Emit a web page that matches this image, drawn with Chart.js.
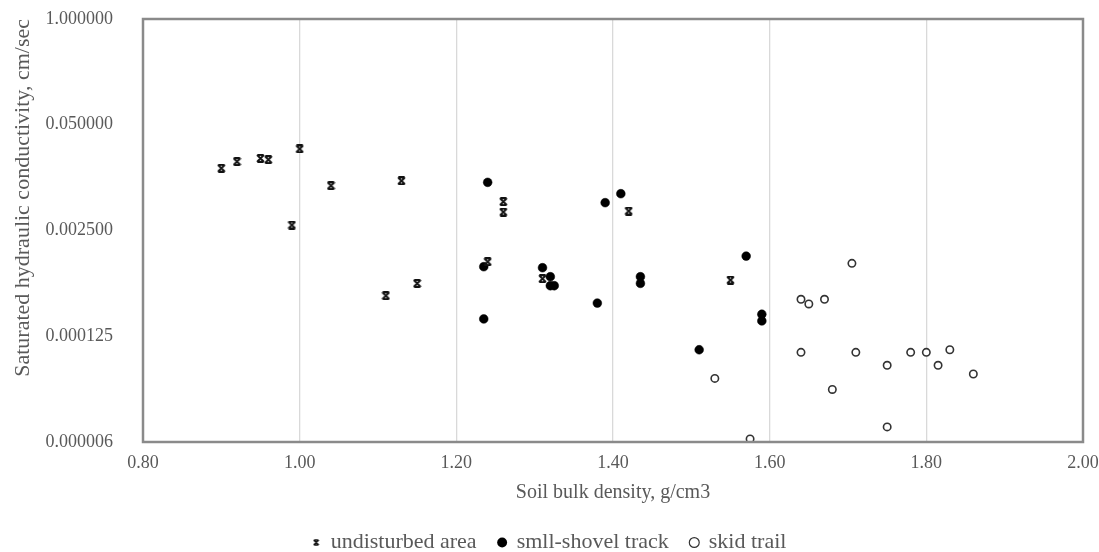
<!DOCTYPE html>
<html>
<head>
<meta charset="utf-8">
<script src="https://cdn.jsdelivr.net/npm/chart.js@4/dist/chart.umd.min.js"></script>
<style>
  html, body { margin: 0; padding: 0; background: #ffffff; }
  #wrap { width: 1099px; height: 552px; position: relative; }
</style>
</head>
<body>
<div id="wrap"><canvas id="chart" width="1099" height="552"></canvas></div>
<script>
// Soil bulk density (g/cm3) and saturated hydraulic conductivity (cm/sec)
const undisturbedDensity = [0.90, 0.92, 0.95, 0.96, 0.99, 1.00, 1.04, 1.11, 1.13, 1.15, 1.24, 1.26, 1.26, 1.31, 1.42, 1.55];
const undisturbedK       = [0.0146, 0.0176, 0.0193, 0.0186, 0.00292, 0.0252, 0.0089, 0.000394, 0.0102, 0.000559, 0.00103, 0.00566, 0.00422, 0.000638, 0.00434, 0.000615];

const shovelDensity = [1.24, 1.235, 1.235, 1.31, 1.32, 1.32, 1.325, 1.38, 1.39, 1.41, 1.435, 1.435, 1.51, 1.57, 1.59, 1.59];
const shovelK       = [0.00978, 0.000896, 0.000204, 0.000871, 0.000675, 0.000523, 0.000523, 0.00032, 0.0055, 0.00709, 0.000675, 0.000559, 0.0000853, 0.00121, 0.000233, 0.000193];

const skidDensity = [1.53, 1.575, 1.64, 1.65, 1.67, 1.705, 1.64, 1.71, 1.68, 1.75, 1.75, 1.78, 1.80, 1.815, 1.83, 1.86];
const skidK       = [0.0000379, 0.0000068, 0.000356, 0.000312, 0.000356, 0.000987, 0.0000793, 0.0000793, 0.0000277, 0.0000549, 0.00000958, 0.0000793, 0.0000793, 0.0000549, 0.0000853, 0.0000429];

const seriesNames = ['undisturbed area', 'smll-shovel track', 'skid trail'];

// Axis ticks: x every 0.2, y in steps of a factor of 20
const xTickValues = [0.80, 1.00, 1.20, 1.40, 1.60, 1.80, 2.00];
const yTickValues = [0.00000625, 0.000125, 0.0025, 0.05, 1];

const pairs = (xs, ys) => xs.map((x, i) => ({ x: x, y: ys[i] }));

// Hourglass-style cross marker
function makeCrossMarker(size, width) {
  const c = document.createElement('canvas');
  c.width = size; c.height = size;
  const g = c.getContext('2d');
  g.strokeStyle = '#111';
  g.lineWidth = width;
  const a = 1, b = size - 1;
  g.beginPath();
  g.moveTo(a, a); g.lineTo(b, b);
  g.moveTo(b, a); g.lineTo(a, b);
  g.moveTo(a + 0.5, a); g.lineTo(b - 0.5, a);
  g.moveTo(a + 0.5, b); g.lineTo(b - 0.5, b);
  g.stroke();
  return c;
}
const crossMarker = makeCrossMarker(9, 1.9);
const crossLegend = makeCrossMarker(7, 1.5);

// Grey frame around the plotting area
const frame = {
  id: 'frame',
  afterDatasetsDraw(chart) {
    const { ctx, chartArea: a } = chart;
    ctx.save();
    ctx.strokeStyle = '#8a8a8a';
    ctx.lineWidth = 2.5;
    ctx.strokeRect(a.left, a.top, a.right - a.left, a.bottom - a.top);
    ctx.restore();
  }
};

const serif = '"Liberation Serif", "Times New Roman", serif';
const textColor = '#595959';

new Chart(document.getElementById('chart'), {
  type: 'scatter',
  data: {
    datasets: [
      {
        label: seriesNames[0],
        data: pairs(undisturbedDensity, undisturbedK),
        pointStyle: crossMarker,
        pointRadius: 4.5,
        pointHoverRadius: 4.5
      },
      {
        label: seriesNames[1],
        data: pairs(shovelDensity, shovelK),
        pointStyle: 'circle',
        pointRadius: 4.4,
        pointHoverRadius: 4.4,
        backgroundColor: '#000000',
        borderColor: '#000000',
        borderWidth: 0.5
      },
      {
        label: seriesNames[2],
        data: pairs(skidDensity, skidK),
        pointStyle: 'circle',
        pointRadius: 3.7,
        pointHoverRadius: 3.7,
        backgroundColor: '#ffffff',
        borderColor: '#333333',
        borderWidth: 1.6
      }
    ]
  },
  options: {
    responsive: false,
    animation: false,
    events: [],
    layout: { padding: { left: 0, right: 0, top: 0, bottom: -11.5 } },
    plugins: {
      tooltip: { enabled: false },
      legend: {
        position: 'bottom',
        labels: {
          usePointStyle: true,
          color: textColor,
          font: { family: serif, size: 22 },
          padding: 22,
          boxWidth: 7,
          boxHeight: 7,
          generateLabels(chart) {
            const styles = [
              { pointStyle: crossLegend, fillStyle: '#000', strokeStyle: '#000', lineWidth: 0 },
              { pointStyle: 'circle', fillStyle: '#000', strokeStyle: '#000', lineWidth: 0 },
              { pointStyle: 'circle', fillStyle: '#fff', strokeStyle: '#333', lineWidth: 1.2 }
            ];
            return chart.data.datasets.map((ds, i) => Object.assign({
              text: ds.label,
              datasetIndex: i,
              fontColor: textColor,
              hidden: false
            }, styles[i]));
          }
        }
      }
    },
    scales: {
      x: {
        type: 'linear',
        min: 0.8,
        max: 2.0,
        afterBuildTicks(scale) { scale.ticks = xTickValues.map(v => ({ value: v })); },
        afterFit(scale) {
          scale.height = 67.5;
          scale.paddingLeft = 0;
          scale.paddingRight = 16;
        },
        grid: { color: '#d9d9d9', lineWidth: 1.3, drawTicks: false },
        border: { display: false },
        ticks: {
          padding: 10,
          color: textColor,
          font: { family: serif, size: 18 },
          callback: v => Number(v).toFixed(2)
        },
        title: {
          display: true,
          text: 'Soil bulk density, g/cm3',
          color: textColor,
          font: { family: serif, size: 20 },
          padding: { top: 0, bottom: 4.5 }
        }
      },
      y: {
        type: 'logarithmic',
        min: 0.00000625,
        max: 1,
        afterBuildTicks(scale) { scale.ticks = yTickValues.map(v => ({ value: v })); },
        afterFit(scale) {
          scale.width = 143;
          scale.paddingTop = 19;
          scale.paddingBottom = 0;
        },
        grid: { display: false },
        border: { display: false },
        ticks: {
          padding: 22,
          color: textColor,
          font: { family: serif, size: 18 },
          callback: v => Number(v).toFixed(6)
        },
        title: {
          display: true,
          align: 'end',
          text: 'Saturated hydraulic conductivity, cm/sec',
          color: textColor,
          font: { family: serif, size: 22 },
          padding: { top: 10, bottom: 0 }
        }
      }
    }
  },
  plugins: [frame]
});
</script>
</body>
</html>
